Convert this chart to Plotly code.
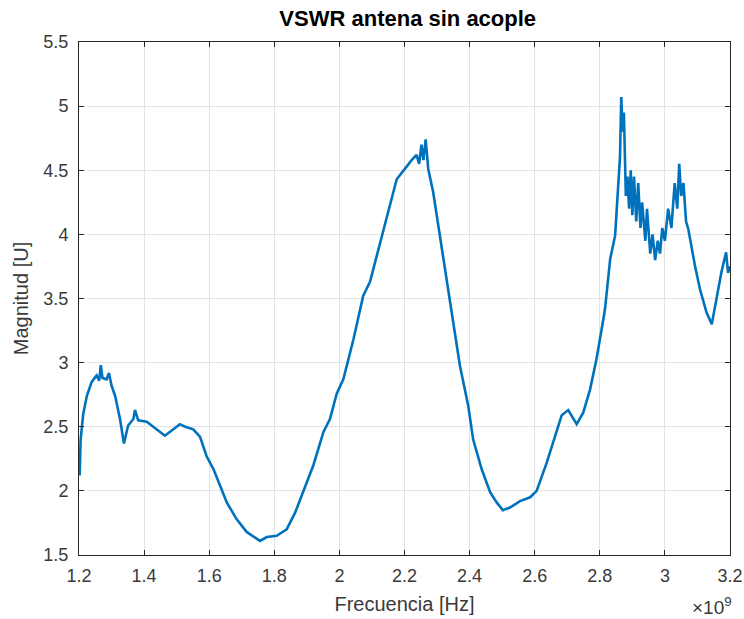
import plotly.graph_objects as go

# frecuencia en unidades de 1e9 Hz, VSWR
freq = [1.200, 1.202, 1.205, 1.213, 1.224, 1.239, 1.254, 1.262, 1.267, 1.272, 1.285,
        1.292, 1.300, 1.311, 1.326, 1.338, 1.351, 1.367, 1.372, 1.382, 1.408, 1.439,
        1.464, 1.490, 1.510, 1.526, 1.551, 1.572, 1.592, 1.613, 1.633, 1.654, 1.684,
        1.715, 1.756, 1.777, 1.807, 1.838, 1.864, 1.889, 1.920, 1.951, 1.971, 1.992,
        2.012, 2.043, 2.073, 2.094, 2.115, 2.145, 2.176, 2.207, 2.222, 2.237, 2.245,
        2.252, 2.258, 2.265, 2.273, 2.288, 2.309, 2.330, 2.350, 2.370, 2.396, 2.411,
        2.437, 2.463, 2.483, 2.502, 2.524, 2.555, 2.586, 2.606, 2.637, 2.662, 2.683,
        2.703, 2.715, 2.729, 2.749, 2.770, 2.790, 2.801, 2.811, 2.816, 2.832, 2.847,
        2.857, 2.862, 2.866, 2.870, 2.874, 2.880, 2.885, 2.890, 2.895, 2.900, 2.905,
        2.912, 2.918, 2.925, 2.930, 2.940, 2.945, 2.955, 2.962, 2.970, 2.978, 2.985,
        2.992, 3.000, 3.010, 3.020, 3.030, 3.038, 3.044, 3.050, 3.057, 3.065, 3.072,
        3.092, 3.108, 3.128, 3.144, 3.159, 3.174, 3.188, 3.194, 3.200]
vswr = [2.20, 2.12, 2.40, 2.60, 2.74, 2.85, 2.90, 2.86, 2.98, 2.88, 2.87,
        2.92, 2.82, 2.74, 2.56, 2.37, 2.51, 2.56, 2.63, 2.55, 2.54, 2.48,
        2.43, 2.48, 2.52, 2.50, 2.48, 2.42, 2.27, 2.17, 2.04, 1.91, 1.78,
        1.68, 1.61, 1.64, 1.65, 1.70, 1.83, 1.99, 2.20, 2.46, 2.56, 2.76,
        2.87, 3.18, 3.52, 3.63, 3.83, 4.12, 4.43, 4.53, 4.58, 4.62, 4.55,
        4.70, 4.58, 4.74, 4.51, 4.33, 3.99, 3.65, 3.29, 2.98, 2.66, 2.40,
        2.17, 1.99, 1.91, 1.85, 1.87, 1.92, 1.95, 2.00, 2.22, 2.43, 2.59,
        2.63, 2.58, 2.52, 2.61, 2.79, 3.03, 3.18, 3.34, 3.42, 3.81, 3.99,
        4.43, 4.60, 5.07, 4.80, 4.95, 4.30, 4.45, 4.20, 4.50, 4.15, 4.45,
        4.10, 4.40, 4.05, 4.25, 3.95, 4.20, 3.85, 4.00, 3.80, 3.95, 3.85,
        4.05, 3.95, 4.20, 4.05, 4.40, 4.20, 4.55, 4.30, 4.40, 4.10, 4.04,
        3.76, 3.57, 3.39, 3.30, 3.50, 3.71, 3.86, 3.70, 3.75]

xticks = [1.2, 1.4, 1.6, 1.8, 2.0, 2.2, 2.4, 2.6, 2.8, 3.0, 3.2]
xticklabels = ["1.2", "1.4", "1.6", "1.8", "2", "2.2", "2.4", "2.6", "2.8", "3", "3.2"]
yticks = [1.5, 2, 2.5, 3, 3.5, 4, 4.5, 5, 5.5]
yticklabels = ["1.5", "2", "2.5", "3", "3.5", "4", "4.5", "5", "5.5"]

FONT = "Liberation Sans, Arial, Helvetica"

fig = go.Figure()
fig.add_trace(go.Scatter(x=freq, y=vswr, mode="lines",
                         line=dict(color="#0072BD", width=2.6), showlegend=False))

axis_style = dict(showline=True, linecolor="#262626", linewidth=1, mirror="ticks",
                  ticks="inside", ticklen=5, tickcolor="#262626", automargin=False,
                  showgrid=True, gridcolor="#e3e3e3", gridwidth=1, zeroline=False,
                  tickfont=dict(family=FONT, size=18, color="#3a3a3a"))

fig.update_xaxes(range=[1.2, 3.2], tickvals=xticks, ticktext=xticklabels,
                 ticklabelstandoff=4,
                 title=dict(text="Frecuencia [Hz]", standoff=12,
                            font=dict(family=FONT, size=20, color="#3a3a3a")),
                 **axis_style)
fig.update_yaxes(range=[1.5, 5.5], tickvals=yticks, ticktext=yticklabels,
                 ticklabelstandoff=6,
                 title=dict(text="Magnitud [U]", standoff=9,
                            font=dict(family=FONT, size=20, color="#3a3a3a")),
                 **axis_style)

fig.update_layout(
    width=744, height=619,
    margin=dict(l=79, r=14, t=42, b=64),
    paper_bgcolor="white", plot_bgcolor="white",
    title=dict(text="<b>VSWR antena sin acople</b>", x=0.548, xanchor="center",
               y=0.971, yanchor="middle",
               font=dict(family=FONT, size=22, color="black")),
    annotations=[dict(text="×10<sup>9</sup>", xref="paper", yref="paper",
                      x=1.006, y=-0.072, xanchor="right", yanchor="top", showarrow=False,
                      font=dict(family=FONT, size=19, color="#3a3a3a"))],
)

fig.write_html("out.html", config={"displayModeBar": False},
               post_script="document.body.style.margin='0';")
